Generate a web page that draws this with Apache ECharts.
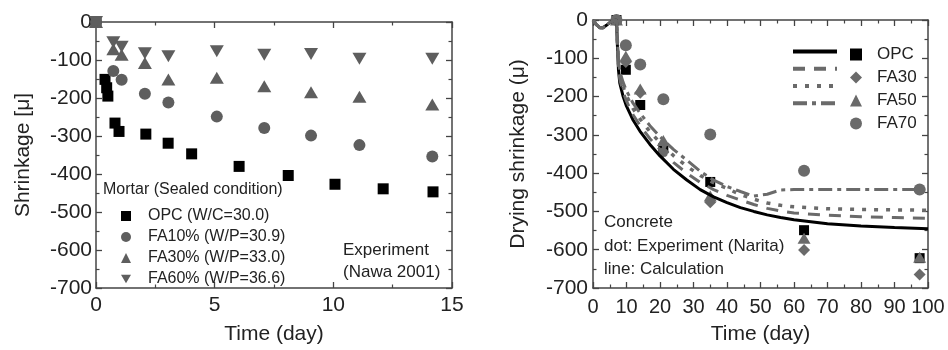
<!DOCTYPE html>
<html>
<head>
<meta charset="utf-8">
<script src="https://cdn.jsdelivr.net/npm/echarts@6/dist/echarts.min.js"></script>
<style>html,body{margin:0;padding:0;background:#fff}#c{width:948px;height:350px}</style>
</head>
<body>
<div id="c"></div>
<script>
// ---------- Left panel: Mortar (Nawa 2001) ----------
const opcLx = [0, 0.38, 0.45, 0.5, 0.8, 0.97, 2.1, 3.04, 4.03, 6.03, 8.1, 10.07, 12.1, 14.2];
const opcLy = [0, -151, -173, -195, -266, -288, -295, -319, -347, -380, -404, -427, -439, -447];
const faLx = [0, 0.73, 1.08, 2.06, 3.05, 5.09, 7.09, 9.06, 11.1, 14.17];
const fa10y = [0, -129, -152, -189, -212, -249, -279, -299, -324, -354];
const fa30y = [0, -72, -86, -108, -151, -147, -169, -185, -197, -217];
const fa60y = [0, -53, -65, -82, -90, -77, -86, -84, -97, -97];
const leftNames = ['OPC (W/C=30.0)', 'FA10% (W/P=30.9)', 'FA30% (W/P=33.0)', 'FA60% (W/P=36.6)'];

// ---------- Right panel: Concrete (Narita) ----------
const expX = [7, 9.8, 14.1, 21, 35, 63, 97.5];
const opcRy = [0, -130, -222, -335, -423, -549, -622];
const fa30Ry = [0, -110, -190, -345, -476, -601, -665];
const fa50Ry = [0, -95, -180, -315, -460, -570, -620];
const fa70Ry = [0, -66, -116, -207, -299, -394, -443];
const calcX = [0, 1, 2, 3, 4, 5, 6, 7, 7.3, 7.6, 8, 9, 10, 12, 14, 17, 20, 24, 28, 32, 36, 40, 44, 48, 52, 56, 60, 70, 80, 90, 100];
const opcCalc = [0, -12, -20, -20, -14, -7, -2, 0, -70, -130, -165, -200, -225, -262, -290, -325, -355, -390, -418, -443, -462, -477, -490, -500, -509, -516, -522, -532, -538, -542, -545];
const fa30Calc = [0, -12, -20, -20, -14, -7, -2, 0, -65, -120, -155, -188, -212, -248, -275, -310, -338, -372, -400, -424, -443, -458, -470, -482, -492, -499, -504, -510, -514, -516, -518];
const fa50Calc = [0, -12, -20, -20, -14, -7, -2, 0, -60, -110, -145, -175, -198, -232, -258, -292, -320, -354, -382, -406, -425, -440, -456, -468, -478, -484, -488, -493, -495, -496, -497];
const fa70Calc = [0, -12, -20, -20, -14, -7, -2, 0, -55, -100, -135, -163, -185, -218, -243, -276, -305, -338, -366, -395, -418, -435, -448, -460, -455, -444, -443, -443, -443, -443, -443];
const rightNames = ['OPC', 'FA30', 'FA50', 'FA70'];
const calcNames = ['OPC calc', 'FA30 calc', 'FA50 calc', 'FA70 calc'];

const leftXTicks = {min: 0, max: 15, interval: 5};
const leftYTicks = {min: -700, max: 0, interval: 100};
const rightXTicks = {min: 0, max: 100, interval: 10};
const rightYTicks = {min: -700, max: 0, interval: 100};

const FONT = 'Liberation Sans';
const BLACK = '#000';
const GRAY = '#5e5e5e';
const LGRAY = '#6a6a6a';
const tri = 'triangle';
const triDown = 'path://M0,0 L10,0 L5,8.7 Z';

const zip = (xs, ys) => xs.map((x, i) => [x, ys[i]]);

function axis(base, opts) {
  return Object.assign({
    type: 'value',
    axisLine: {show: true, onZero: false, lineStyle: {color: '#444', width: 1.5}},
    axisTick: {show: true, inside: true, length: 6, lineStyle: {color: '#444', width: 1.3}},
    minorTick: {show: true, splitNumber: 2, length: 3.5, lineStyle: {color: '#444', width: 1.2}},
    splitLine: {show: false},
    minorSplitLine: {show: false},
    axisLabel: {show: false}
  }, base, opts);
}
const labelStyle = (size, margin) => ({show: true, fontFamily: FONT, fontSize: size, color: '#222', margin: margin});
const mk = (c) => ({color: c, opacity: 1});

const option = {
  animation: false,
  backgroundColor: '#fff',
  grid: [
    {left: 96, top: 22, width: 356, height: 268},
    {left: 593, top: 20, width: 335, height: 270}
  ],
  xAxis: [
    axis(leftXTicks, {gridIndex: 0, position: 'bottom', axisLabel: labelStyle(21, 7),
      name: 'Time (day)', nameLocation: 'middle', nameGap: 36,
      nameTextStyle: {fontFamily: FONT, fontSize: 21, color: '#222'}}),
    axis(leftXTicks, {gridIndex: 0, position: 'top'}),
    axis(rightXTicks, {gridIndex: 1, position: 'bottom', axisLabel: labelStyle(20, 9),
      name: 'Time (day)', nameLocation: 'middle', nameGap: 36,
      nameTextStyle: {fontFamily: FONT, fontSize: 21, color: '#222'}}),
    axis(rightXTicks, {gridIndex: 1, position: 'top'})
  ],
  yAxis: [
    axis(leftYTicks, {gridIndex: 0, position: 'left', axisLabel: labelStyle(21, 4),
      name: 'Shrinkage [μ]', nameLocation: 'middle', nameGap: 62,
      nameTextStyle: {fontFamily: FONT, fontSize: 21, color: '#222'}}),
    axis(leftYTicks, {gridIndex: 0, position: 'right'}),
    axis(rightYTicks, {gridIndex: 1, position: 'left', axisLabel: labelStyle(21, 5),
      name: 'Drying shrinkage (μ)', nameLocation: 'middle', nameGap: 64,
      nameTextStyle: {fontFamily: FONT, fontSize: 21, color: '#222'}}),
    axis(rightYTicks, {gridIndex: 1, position: 'right'})
  ],
  legend: [
    {
      data: leftNames, orient: 'vertical', left: 116, top: 203,
      itemWidth: 10, itemHeight: 10, itemGap: 5,
      textStyle: {fontFamily: FONT, fontSize: 16, color: '#222', lineHeight: 16, padding: [0, 0, 0, 12]},
      selectedMode: false
    },
    {
      data: calcNames, orient: 'vertical', left: 786, top: 41,
      itemWidth: 44, itemHeight: 14, itemGap: 6,
      formatter: () => '',
      lineStyle: {width: 4},
      itemStyle: {opacity: 0},
      textStyle: {fontSize: 17, lineHeight: 17},
      selectedMode: false
    },
    {
      data: rightNames, orient: 'vertical', left: 845, top: 41,
      itemWidth: 12, itemHeight: 12, itemGap: 6,
      textStyle: {fontFamily: FONT, fontSize: 17, color: '#222', lineHeight: 17, padding: [0, 0, 0, 10]},
      selectedMode: false
    }
  ],
  graphic: [
    {type: 'text', left: 103, top: 182, style: {text: 'Mortar (Sealed condition)', font: '16px "Liberation Sans"', fill: '#222'}},
    {type: 'text', left: 343, top: 242, style: {text: 'Experiment', font: '17px "Liberation Sans"', fill: '#222'}},
    {type: 'text', left: 343, top: 264, style: {text: '(Nawa 2001)', font: '17px "Liberation Sans"', fill: '#222'}},
    {type: 'text', left: 604, top: 214, style: {text: 'Concrete', font: '17px "Liberation Sans"', fill: '#222'}},
    {type: 'text', left: 604, top: 238, style: {text: 'dot: Experiment (Narita)', font: '17px "Liberation Sans"', fill: '#222'}},
    {type: 'text', left: 604, top: 261, style: {text: 'line: Calculation', font: '17px "Liberation Sans"', fill: '#222'}}
  ],
  series: [
    // left panel
    {name: leftNames[0], type: 'scatter', xAxisIndex: 0, yAxisIndex: 0, symbol: 'rect', symbolSize: 11,
      itemStyle: mk(BLACK), data: zip(opcLx, opcLy)},
    {name: leftNames[1], type: 'scatter', xAxisIndex: 0, yAxisIndex: 0, symbol: 'circle', symbolSize: 12,
      itemStyle: mk(GRAY), data: zip(faLx, fa10y)},
    {name: leftNames[2], type: 'scatter', xAxisIndex: 0, yAxisIndex: 0, symbol: tri, symbolSize: [14, 12],
      itemStyle: mk(GRAY), data: zip(faLx, fa30y)},
    {name: leftNames[3], type: 'scatter', xAxisIndex: 0, yAxisIndex: 0, symbol: triDown, symbolSize: [14, 12],
      itemStyle: mk(GRAY), data: zip(faLx, fa60y)},
    // right panel calculation lines
    {name: calcNames[0], type: 'line', xAxisIndex: 2, yAxisIndex: 2, symbol: 'none', smooth: false,
      lineStyle: {color: BLACK, width: 3}, itemStyle: {color: BLACK}, data: zip(calcX, opcCalc)},
    {name: calcNames[1], type: 'line', xAxisIndex: 2, yAxisIndex: 2, symbol: 'none',
      lineStyle: {color: LGRAY, width: 3, type: [12, 9]}, itemStyle: {color: LGRAY}, data: zip(calcX, fa30Calc)},
    {name: calcNames[2], type: 'line', xAxisIndex: 2, yAxisIndex: 2, symbol: 'none',
      lineStyle: {color: LGRAY, width: 3.5, type: [4, 8]}, itemStyle: {color: LGRAY}, data: zip(calcX, fa50Calc)},
    {name: calcNames[3], type: 'line', xAxisIndex: 2, yAxisIndex: 2, symbol: 'none',
      lineStyle: {color: LGRAY, width: 3, type: [14, 5, 4, 5]}, itemStyle: {color: LGRAY}, data: zip(calcX, fa70Calc)},
    // right panel experiment dots
    {name: rightNames[0], type: 'scatter', xAxisIndex: 2, yAxisIndex: 2, symbol: 'rect', symbolSize: 10,
      itemStyle: mk(BLACK), data: zip(expX, opcRy)},
    {name: rightNames[1], type: 'scatter', xAxisIndex: 2, yAxisIndex: 2, symbol: 'diamond', symbolSize: 12,
      itemStyle: mk(LGRAY), data: zip(expX, fa30Ry)},
    {name: rightNames[2], type: 'scatter', xAxisIndex: 2, yAxisIndex: 2, symbol: tri, symbolSize: [13, 11],
      itemStyle: mk(LGRAY), data: zip(expX, fa50Ry)},
    {name: rightNames[3], type: 'scatter', xAxisIndex: 2, yAxisIndex: 2, symbol: 'circle', symbolSize: 12,
      itemStyle: mk(LGRAY), data: zip(expX, fa70Ry)}
  ]
};

const chart = echarts.init(document.getElementById('c'), null, {renderer: 'canvas'});
chart.setOption(option);
</script>
</body>
</html>
